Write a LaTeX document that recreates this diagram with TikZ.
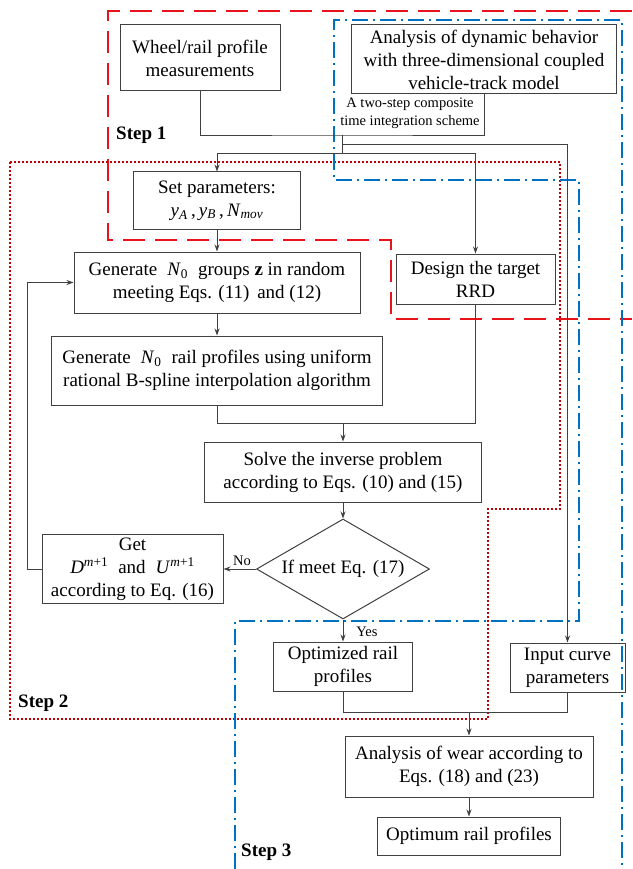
\documentclass[tikz,border=0pt]{standalone}
\usepackage{fontspec}
\setmainfont{Liberation Serif}
\usetikzlibrary{arrows.meta,shapes.geometric}
\definecolor{lngray}{HTML}{404040}
\definecolor{rdash}{HTML}{E8141B}
\definecolor{rdot}{HTML}{C00000}
\definecolor{bdash}{HTML}{0070C0}
\newcommand{\iv}[1]{\textit{#1}}
\begin{document}
\begin{tikzpicture}[x=1pt,y=-1pt,
  box/.style={draw=lngray,line width=1pt,inner sep=0pt,align=center,font=\fontsize{19}{23}\selectfont},
  conn/.style={draw=lngray,line width=0.9pt},
  arr/.style={conn,-{Stealth[length=7pt,width=5pt]}},
  small/.style={font=\fontsize{14.5}{18}\selectfont,inner sep=0pt,align=center},
  steplbl/.style={font=\fontsize{19}{23}\selectfont\bfseries,inner sep=0pt,anchor=west},
  reddash/.style={draw=rdash,line width=2pt,dash pattern=on 22pt off 10pt},
  reddot/.style={draw=rdot,line width=1.6pt,dash pattern=on 2pt off 2pt},
  bluedd/.style={draw=bdash,line width=1.8pt,dash pattern=on 16pt off 5pt on 2pt off 5pt}]
\useasboundingbox (0,0) rectangle (632,869);

% group borders
\draw[reddash] (632,11) -- (108,11) -- (108,240) -- (391,240) -- (391,319) -- (632,319);
\draw[reddot] (10,162) -- (560,162) -- (560,509) -- (488,509) -- (488,719) -- (10,719) -- cycle;
\draw[bluedd] (235,869) -- (235,621) -- (579,621) -- (579,180) -- (334,180) -- (334,20) -- (622,20) -- (622,869);

% boxes
\node[box,minimum width=160pt,minimum height=66pt] (wheel) at (200,58) {Wheel/rail profile\\measurements};
\node[box,minimum width=265pt,minimum height=69pt] (dyn) at (484,59.5) {Analysis of dynamic behavior\\with three-dimensional coupled\\vehicle-track model};
\node[small] (tsl) at (410,113) {A two-step composite\\time integration scheme};
\node[box,minimum width=167pt,minimum height=57pt] (setp) at (217,200.5) {Set parameters:\\\iv{y}\textsubscript{\iv{A}}\,,\,\iv{y}\textsubscript{\iv{B}}\,,\,\iv{N}\textsubscript{\iv{mov}}};
\node[box,minimum width=286pt,minimum height=61pt] (gen0) at (217,282.5) {Generate \;\iv{N}\textsubscript{0}\; groups \textbf{z} in random\\meeting Eqs. (11)\, and (12)};
\node[box,minimum width=159pt,minimum height=50pt] (rrd) at (475.5,279) {Design the target\\RRD};
\node[box,minimum width=331pt,minimum height=69pt] (genr) at (217,370.5) {Generate \;\iv{N}\textsubscript{0}\; rail profiles using uniform\\rational B-spline interpolation algorithm};
\node[box,minimum width=277pt,minimum height=60pt] (solve) at (343,472) {Solve the inverse problem\\according to Eqs. (10) and (15)};
\node[box,shape=diamond,aspect=1.73,minimum width=173pt,minimum height=100pt] (dia) at (343,569) {If meet Eq. (17)};
\node[box,minimum width=181pt,minimum height=69pt] (get) at (132.5,569) {Get\\\iv{D}\textsuperscript{\iv{m}+1}\; and \;\iv{U}\textsuperscript{\iv{m}+1}\\according to Eq. (16)};
\node[box,minimum width=139pt,minimum height=49pt] (opt) at (343,666.5) {Optimized rail\\profiles};
\node[box,minimum width=115pt,minimum height=49pt] (inp) at (567.5,667.5) {Input curve\\parameters};
\node[box,minimum width=248pt,minimum height=61pt] (wear) at (469,766.5) {Analysis of wear according to\\Eqs. (18) and (23)};
\node[box,minimum width=183pt,minimum height=38pt] (optimum) at (469,836) {Optimum rail profiles};

% step labels
\node[steplbl] (s1) at (116,135) {Step 1};
\node[steplbl] (s2) at (18,703) {Step 2};
\node[steplbl] (s3) at (241,852) {Step 3};

% connectors
\coordinate (jA) at (342,135);
\coordinate (jC) at (342,144);
\coordinate (jB) at (342,153);
\draw[conn] (wheel.south) |- (jA) -| (dyn.south);
\draw[conn] (jA) -- (jB);
\draw[arr] (jB) -| (setp.north);
\draw[arr] (jB) -| (rrd.north);
\draw[arr] (jC) -| (inp.north);
\draw[arr] (setp.south) -- (gen0.north);
\draw[arr] (gen0.south) -- (genr.north);
\coordinate (jD) at (343,423);
\draw[conn] (genr.south) |- (jD);
\draw[conn] (rrd.south) |- (jD);
\draw[arr] (jD) -- (solve.north);
\draw[arr] (solve.south) -- (dia.north);
\draw[arr] (dia.west) -- (get.east);
\node[small] (no) at (242,561) {No};
\draw[arr] (get.west) -- ++(-14,0) |- (gen0.west);
\draw[arr] (dia.south) -- (opt.north);
\node[small] (yes) at (367,632) {Yes};
\coordinate (jE) at (469,712);
\draw[conn] (opt.south) |- (jE);
\draw[conn] (inp.south) |- (jE);
\draw[arr] (jE) -- (wear.north);
\draw[arr] (wear.south) -- (optimum.north);
\end{tikzpicture}
\end{document}
